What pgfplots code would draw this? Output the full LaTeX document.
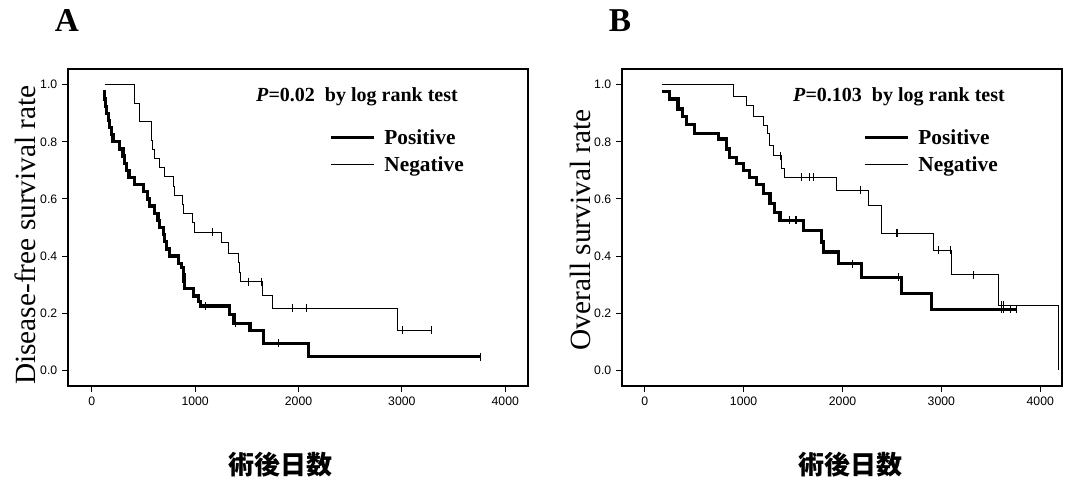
\documentclass[border=0pt]{standalone}
\usepackage{fontspec}
\setmainfont{Liberation Serif}
\setsansfont{Liberation Sans}
\newfontfamily\cjk{Noto Sans CJK JP}
\usepackage{pgfplots}
\pgfplotsset{compat=1.18}

\pgfplotsset{
  km/.style={
    scale only axis,
    anchor=south west,
    height=237.75pt,
    xmin=-230, xmax=4220,
    ymin=-0.055, ymax=1.055,
    xtick={0,1000,2000,3000,4000},
    ytick={0,0.2,0.4,0.6,0.8,1.0},
    xtick pos=lower, ytick pos=left,
    tick align=outside,
    major tick length=4.5pt,
    tick style={black, line width=0.75pt},
    axis line style={line width=1pt},
    tick label style={font=\fontsize{9.2}{11}\sffamily},
    /pgf/number format/assume math mode=true,
    xticklabel style={/pgf/number format/set thousands separator={}},
    yticklabel style={/pgf/number format/.cd, fixed, fixed zerofill, precision=1},
    legend style={draw=none, fill=none, font=\fontsize{16}{18}\selectfont\bfseries,
      row sep=4.5pt, column sep=5pt, nodes={inner sep=1.5pt}},
    legend cell align=left,
    legend image code/.code={\draw[##1] (0pt,0pt) -- (32pt,0pt);},
  },
  pos/.style={const plot, black, line width=2.4pt},
  neg/.style={const plot, black, line width=0.75pt},
  cens/.style={only marks, mark=|, mark size=3pt, mark options={line width=0.75pt}, black},
}

\begin{document}
\begin{tikzpicture}
\useasboundingbox (0,0) rectangle (810.75pt,366pt);

% ---- A: disease-free survival
\begin{axis}[km, at={(51pt,76.5pt)}, width=345pt,
  legend style={at={(rel axis cs:0.56,0.825)}, anchor=north west}]
\addplot[pos] coordinates {
(110,0.975)(125,0.95)(135,0.925)(145,0.90)(158,0.875)(170,0.85)(190,0.825)(205,0.80)
(271,0.775)(303,0.75)(320,0.725)(336,0.70)(361,0.675)(416,0.65)(497,0.625)(540,0.60)
(561,0.575)(610,0.55)(640,0.525)(658,0.50)(690,0.475)(705,0.45)(723,0.425)(755,0.40)
(836,0.375)(868,0.36)(885,0.335)(893,0.31)(900,0.285)(981,0.26)(1029,0.24)(1055,0.225)
(1329,0.196)(1375,0.165)(1530,0.14)(1658,0.095)(2094,0.047)(3756,0.047)};
\addlegendentry{Positive}
\addplot[neg] coordinates {
(126,1.0)(416,0.934)(465,0.87)(578,0.806)(590,0.774)(610,0.742)(658,0.71)(707,0.677)
(790,0.645)(803,0.613)(875,0.581)(890,0.548)(975,0.516)(990,0.484)(1258,0.446)(1326,0.41)
(1420,0.376)(1430,0.343)(1440,0.31)(1655,0.263)(1752,0.218)(2962,0.14)(3291,0.14)};
\addlegendentry{Negative}
\addplot[cens, forget plot] coordinates {(1104,0.225)(1394,0.165)(1810,0.095)(3756,0.047)};
\addplot[cens, forget plot] coordinates {(1171,0.484)(1520,0.31)(1645,0.31)(1946,0.218)(2081,0.218)(3010,0.14)(3291,0.14)};
\end{axis}

% ---- B: overall survival
\begin{axis}[km, at={(466.5pt,76.5pt)}, width=330pt,
  legend style={at={(rel axis cs:0.54,0.825)}, anchor=north west}]
\addplot[pos] coordinates {
(170,0.976)(253,0.95)(337,0.915)(380,0.89)(422,0.862)(506,0.83)(742,0.81)(827,0.775)
(861,0.746)(928,0.723)(995,0.70)(1063,0.676)(1131,0.65)(1198,0.618)(1266,0.583)(1316,0.552)
(1367,0.525)(1603,0.49)(1789,0.449)(1805,0.414)(1960,0.373)(2194,0.326)(2598,0.268)
(2902,0.213)(3760,0.213)};
\addlegendentry{Positive}
\addplot[neg] coordinates {
(170,1.0)(893,0.96)(1031,0.927)(1099,0.89)(1200,0.857)(1237,0.828)(1265,0.787)(1305,0.752)
(1385,0.705)(1418,0.676)(1940,0.63)(2262,0.577)(2390,0.53)(2397,0.48)(2919,0.42)(3101,0.335)
(3577,0.227)(4180,0.227)(4180,0.0)};
\addlegendentry{Negative}
\addplot[cens, forget plot] coordinates {(1468,0.525)(1520,0.525)(1536,0.525)(2100,0.373)(2566,0.326)(3612,0.213)(3628,0.213)(3700,0.213)(3760,0.213)};
\addplot[cens, forget plot] coordinates {(1370,0.752)(1590,0.676)(1670,0.676)(1710,0.676)(2184,0.63)(2547,0.48)(2560,0.48)(2970,0.42)(3094,0.42)(3324,0.335)(3612,0.227)(3628,0.227)};
\end{axis}

% ---- panel letters, stats text, axis titles
\node[font=\fontsize{25}{25}\selectfont\bfseries] at (50.25pt,350.25pt) {A};
\node[font=\fontsize{25}{25}\selectfont\bfseries] at (465pt,350.25pt) {B};
\node[font=\fontsize{15}{17}\selectfont\bfseries] at (267.75pt,293.25pt) {\textit{P}=0.02\ \ by log rank test};
\node[font=\fontsize{15}{17}\selectfont\bfseries] at (674.25pt,293.25pt) {\textit{P}=0.103\ \ by log rank test};
\node[rotate=90, font=\fontsize{22}{24}\selectfont] at (18.75pt,189.75pt) {Disease-free survival rate};
\node[rotate=90, font=\fontsize{22}{24}\selectfont] at (435pt,193.5pt) {Overall survival rate};
\node[font=\fontsize{19.5}{22}\cjk\bfseries] at (210pt,17.25pt) {術後日数};
\node[font=\fontsize{19.5}{22}\cjk\bfseries] at (637.5pt,17.25pt) {術後日数};
\end{tikzpicture}
\end{document}
